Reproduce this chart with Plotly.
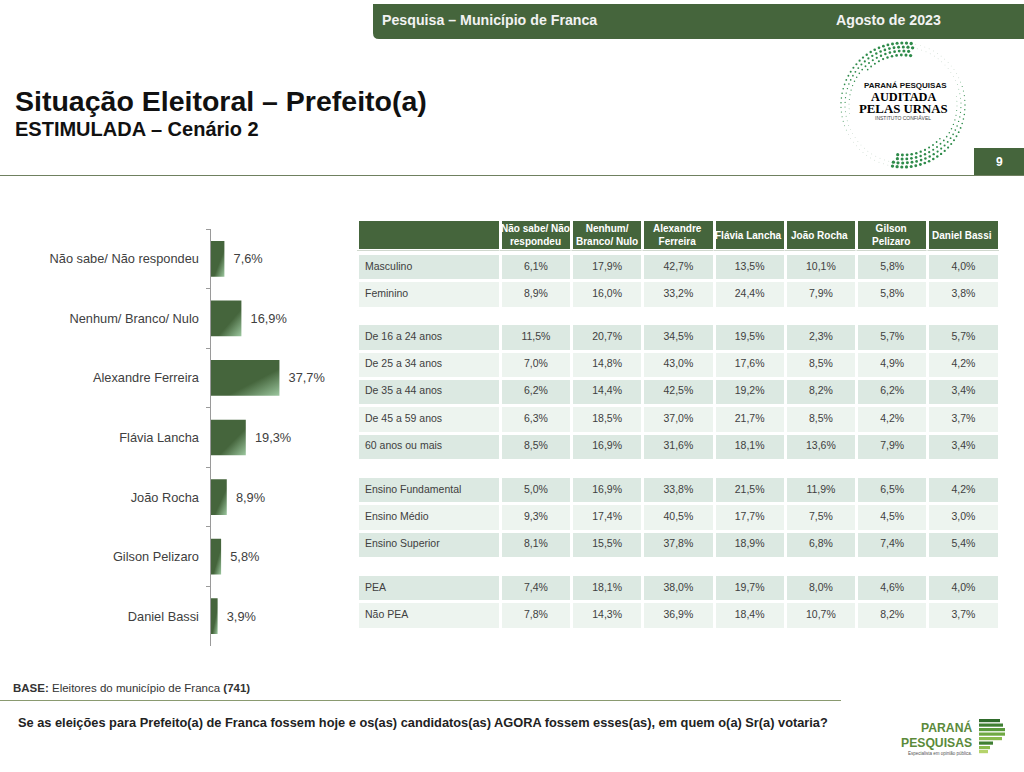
import math
import urllib.parse
import plotly.graph_objects as go

# ---------- data ----------
candidates = ["Não sabe/ Não respondeu", "Nenhum/ Branco/ Nulo", "Alexandre Ferreira",
              "Flávia Lancha", "João Rocha", "Gilson Pelizaro", "Daniel Bassi"]
totals = [7.6, 16.9, 37.7, 19.3, 8.9, 5.8, 3.9]
table_headers = ["Não sabe/ Não<br>respondeu", "Nenhum/<br>Branco/ Nulo",
                 "Alexandre<br>Ferreira", "Flávia Lancha", "João Rocha",
                 "Gilson<br>Pelizaro", "Daniel Bassi"]
sex_labels = ["Masculino", "Feminino"]
sex_values = [[6.1, 17.9, 42.7, 13.5, 10.1, 5.8, 4.0],
              [8.9, 16.0, 33.2, 24.4, 7.9, 5.8, 3.8]]
age_labels = ["De 16 a 24 anos", "De 25 a 34 anos", "De 35 a 44 anos", "De 45 a 59 anos", "60 anos ou mais"]
age_values = [[11.5, 20.7, 34.5, 19.5, 2.3, 5.7, 5.7],
              [7.0, 14.8, 43.0, 17.6, 8.5, 4.9, 4.2],
              [6.2, 14.4, 42.5, 19.2, 8.2, 6.2, 3.4],
              [6.3, 18.5, 37.0, 21.7, 8.5, 4.2, 3.7],
              [8.5, 16.9, 31.6, 18.1, 13.6, 7.9, 3.4]]
edu_labels = ["Ensino Fundamental", "Ensino Médio", "Ensino Superior"]
edu_values = [[5.0, 16.9, 33.8, 21.5, 11.9, 6.5, 4.2],
              [9.3, 17.4, 40.5, 17.7, 7.5, 4.5, 3.0],
              [8.1, 15.5, 37.8, 18.9, 6.8, 7.4, 5.4]]
pea_labels = ["PEA", "Não PEA"]
pea_values = [[7.4, 18.1, 38.0, 19.7, 8.0, 4.6, 4.0],
              [7.8, 14.3, 36.9, 18.4, 10.7, 8.2, 3.7]]

# ---------- style ----------
W, H = 1024, 772
GREEN = "#45653C"
BAND_D, BAND_L = "#DCE9E2", "#EDF4EF"
FONT = "Liberation Sans"
TXT = "#404040"


def px(x):
    return x / W


def py(y):
    return 1 - y / H


def fmt(v):
    return f"{v:.1f}".replace(".", ",") + "%"


fig = go.Figure()

# ---------- bars ----------
fig.add_trace(go.Bar(
    y=candidates, x=totals, orientation="h",
    marker=dict(color=GREEN, line=dict(width=0)),
    text=["\u00a0\u2009" + fmt(v) for v in totals],
    textposition="outside", textangle=0, constraintext="none", cliponaxis=False,
    textfont=dict(family=FONT, size=12.8, color=TXT),
    width=0.6, hoverinfo="skip", showlegend=False,
))
fig.update_xaxes(domain=[px(210.5), px(210.5 + 128)], range=[0, 70], visible=False)
fig.update_yaxes(domain=[py(646), py(229)], autorange="reversed", type="category",
                 tickson="boundaries", ticks="outside", ticklen=4, tickcolor="#9A9A9A",
                 showline=True, linecolor="#9A9A9A", linewidth=1, showgrid=False,
                 tickfont=dict(family=FONT, size=12.8, color=TXT), ticklabelstandoff=8)

# ---------- table: every row is drawn as its own one-row table ----------
X0, X1 = 357, 999
COLW = [143] + [71.1] * 7
ROW_H = 27.2


def add_row(center, lab, vals, fill):
    top = center - ROW_H / 2 - 0.5
    fig.add_trace(go.Table(
        domain=dict(x=[px(X0), px(X1)], y=[py(top + ROW_H + 1), py(top)]),
        columnwidth=COLW,
        header=dict(values=[lab] + [fmt(v) for v in vals], height=ROW_H,
                    align=["left"] + ["center"] * 7,
                    fill=dict(color=fill), line=dict(color="white", width=3),
                    font=dict(family=FONT, size=10.5, color=TXT)),
    ))


def add_block(centers, labels, values):
    for i, (c, lab, vals) in enumerate(zip(centers, labels, values)):
        add_row(c, lab, vals, BAND_D if i % 2 == 0 else BAND_L)


fig.add_trace(go.Table(
    domain=dict(x=[px(X0), px(X1)], y=[py(251), py(219.5)]),
    columnwidth=COLW,
    header=dict(values=[""] * 8, height=31, fill=dict(color=GREEN), line=dict(color="white", width=3),
                font=dict(family=FONT, size=10, color="white")),
))
add_block([268, 295], sex_labels, sex_values)
add_block([338, 365.5, 392.5, 420, 447.5], age_labels, age_values)
add_block([491, 518, 545.5], edu_labels, edu_values)
add_block([589, 616], pea_labels, pea_values)

# ---------- page furniture ----------
shapes = []


def rect(x0, y0, x1, y1, color):
    shapes.append(dict(type="rect", xref="paper", yref="paper", x0=px(x0), x1=px(x1),
                       y0=py(y1), y1=py(y0), fillcolor=color, line=dict(width=0), layer="below"))


def hline(x0, x1, y, color, w=1):
    shapes.append(dict(type="line", xref="paper", yref="paper", x0=px(x0), x1=px(x1),
                       y0=py(y), y1=py(y), line=dict(color=color, width=w), layer="below"))


# top band with rounded lower-left corner
shapes.append(dict(type="path", xref="paper", yref="paper", layer="below",
                   path=(f"M {px(373)} {py(4)} L {px(1024)} {py(4)} L {px(1024)} {py(39)} "
                         f"L {px(379)} {py(39)} Q {px(373)} {py(39)} {px(373)} {py(33)} Z"),
                   fillcolor=GREEN, line=dict(width=0)))
rect(974, 148, 1024, 175, GREEN)
hline(0, 1024, 175.5, "#6F8060")
hline(0, 841, 700.5, "#8A9A70")
# stripes of the Paraná Pesquisas mark
stripes = [(979, 719, 1000, "#2F6B2B"), (979, 723.5, 1003, "#3F7F33"), (979, 728, 1005, "#5A9A3C"),
           (979, 732.5, 1005, "#6FA843"), (979, 737, 1002, "#8ABB4D"), (979, 741.5, 993, "#3F7F33"),
           (979, 746, 990, "#8ABB4D"), (979, 750, 988, "#B5D36B")]
for x0, y0, x1, c in stripes:
    rect(x0, y0, x1, y0 + 3.2, c)

annotations = []


def label(x, y, text, size, color="#111111", bold=False, family=FONT, anchor="left"):
    annotations.append(dict(xref="paper", yref="paper", x=px(x), y=py(y), xanchor=anchor, yanchor="middle",
                            showarrow=False, text=f"<b>{text}</b>" if bold else text, align="center",
                            font=dict(family=family, size=size, color=color)))


for i, head in enumerate(table_headers):
    label(X0 + COLW[0] + 71.1 * (i + 0.5), 235.5, head, 10, "white", True, FONT, "center")

label(380, 20, "Pesquisa – Município de Franca", 14.2, "#F2F2F2", True)
label(834, 20, "Agosto de 2023", 14.2, "#F2F2F2", True)
label(999, 162, "9", 12, "white", True, anchor="center")
label(13, 101, "Situação Eleitoral – Prefeito(a)", 28.5, "#111111", True)
label(13, 129, "ESTIMULADA – Cenário 2", 20, "#111111", True)
label(11, 688, "<b>BASE:</b> Eleitores do município de Franca <b>(741)</b>", 11.5, "#333333")
label(16, 722, "Se as eleições para Prefeito(a) de Franca fossem hoje e os(as) candidatos(as) AGORA fossem esses(as), em quem o(a) Sr(a) votaria?",
      12.8, "#222222", True)
# seal text
label(905, 85.5, "PARANÁ PESQUISAS", 8, "#111111", True, FONT, "center")
label(903, 97.3, "AUDITADA", 12.3, "#000000", True, "Liberation Serif", "center")
label(903, 108.5, "PELAS URNAS", 12.8, "#000000", True, "Liberation Serif", "center")
label(903, 118, "INSTITUTO CONFIÁVEL", 5, "#444444", False, FONT, "center")
# company mark text
label(974, 727, "PARANÁ", 12.2, "#5B8A3A", True, FONT, "right")
label(974, 743, "PESQUISAS", 12.2, "#5B8A3A", True, FONT, "right")
label(974, 753, "Especialista em opinião pública.", 4.5, "#555555", False, FONT, "right")

# dotted ring of the seal as an inline SVG picture
cx, cy = 70, 70
dots = []
for ring, r in enumerate((62, 58, 54, 50)):
    n = int(r * 1.35)
    for k in range(n):
        deg = 360 * k / n + ring * 2
        t = (deg - 80) % 180  # counter-clockwise distance from the heavy end of each arc
        fade = 1 - t / 180
        size = 2.7 * fade ** 1.15 - ring * 0.25 * (1 - fade) ** 0.5
        if ring == 3 and t > 60:
            continue
        if ring == 2 and t > 110:
            continue
        if size < 0.5:
            size = 0.6
        col = "#2E8B4A" if t < 125 else "#9DB8A4"
        a = math.radians(deg)
        dots.append(f'<circle cx="{cx + r * math.cos(a):.1f}" cy="{cy - r * math.sin(a):.1f}" r="{size / 1.6:.2f}" fill="{col}"/>')
svg = f'<svg xmlns="http://www.w3.org/2000/svg" width="140" height="140" viewBox="0 0 140 140">{"".join(dots)}</svg>'
ring_src = "data:image/svg+xml," + urllib.parse.quote(svg)

fig.update_layout(
    width=W, height=H, margin=dict(l=0, r=0, t=0, b=0),
    paper_bgcolor="white", plot_bgcolor="white", showlegend=False,
    shapes=shapes, annotations=annotations,
    images=[dict(source=ring_src, xref="paper", yref="paper", x=px(903 - 70), y=py(105 - 70),
                 sizex=140 / W, sizey=140 / H, xanchor="left", yanchor="top", layer="below")],
)

# diagonal shading of the bars, and no page margin
post = """
document.body.style.margin = 0;
var gd = document.getElementById('{plot_id}');
var svg = gd.querySelector('svg.main-svg');
var ns = 'http://www.w3.org/2000/svg';
var defs = svg.querySelector('defs');
var g = document.createElementNS(ns, 'linearGradient');
g.setAttribute('id', 'barshade');
g.setAttribute('x1', '0'); g.setAttribute('y1', '0');
g.setAttribute('x2', '1'); g.setAttribute('y2', '1');
[['0', '#45653C'], ['0.62', '#45653C'], ['1', '#9CC79F']].forEach(function (s) {
  var st = document.createElementNS(ns, 'stop');
  st.setAttribute('offset', s[0]); st.setAttribute('stop-color', s[1]);
  g.appendChild(st);
});
defs.appendChild(g);
gd.querySelectorAll('.barlayer .point path').forEach(function (p) {
  p.style.fill = 'url(#barshade)';
});
"""
fig.write_html("out.html", post_script=post, config=dict(displayModeBar=False))
